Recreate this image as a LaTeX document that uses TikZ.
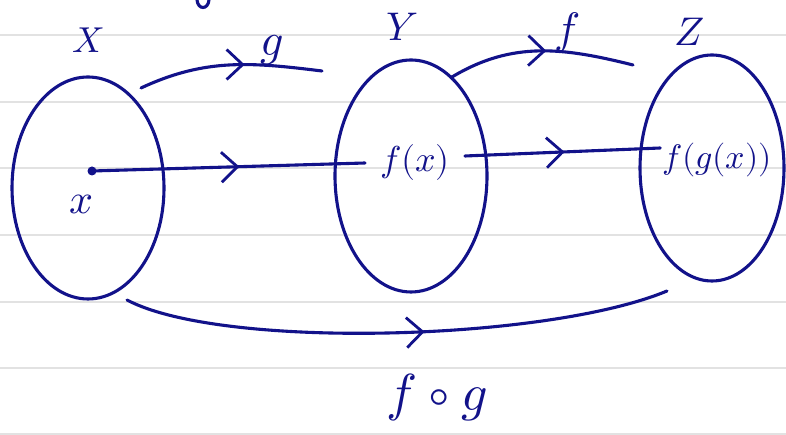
\documentclass[tikz,border=0pt]{standalone}
\usepackage{unicode-math}
\usepackage{tikz}
\usetikzlibrary{calc,positioning,arrows.meta,shapes.geometric,decorations.markings}
\definecolor{Ink}{HTML}{12128A}
\definecolor{RuleGray}{HTML}{E2E2E2}

\tikzset{
  ruled/.style={draw=RuleGray, line width=2pt},
  setblob/.style={ellipse, draw=Ink, line width=3.1pt, inner sep=0pt},
  handline/.style={draw=Ink, line width=3.1pt, line cap=round},
  lbl/.style={text=Ink, inner sep=0pt, font=\fontsize{36}{38}\selectfont},
  dotnode/.style={circle, fill=Ink, inner sep=0pt, minimum size=9pt},
  midtip/.style={postaction={decorate},
    decoration={markings, mark=at position #1 with
      {\arrow[Ink, line width=2.8pt]{Straight Barb[length=16pt,width=30pt]}}}}
}

\begin{document}
\begin{tikzpicture}[x=1pt,y=1pt]
  \useasboundingbox[fill=white] (0,0) rectangle (786,435);

  % lined paper
  \foreach \yy in {1,66.7,133.3,200,266.7,333.3,400}
    \draw[ruled] (0,\yy) -- (786,\yy);

  % the three sets
  \node[setblob, minimum width=152pt, minimum height=222pt] (setX) at (88,247) {};
  \node[setblob, minimum width=152pt, minimum height=232pt] (setY) at (411,259) {};
  \node[setblob, minimum width=144pt, minimum height=226pt] (setZ) at (712,267) {};

  \node[lbl] (labX) at (88,395) {$X$};
  \node[lbl, font=\fontsize{40}{42}\selectfont] (labY) at (402,408) {$Y$};
  \node[lbl, font=\fontsize{40}{42}\selectfont] (labZ) at (690,403) {$Z$};

  % elements
  \node[dotnode] (pt) at (92,264) {};
  \node[lbl, font=\fontsize{42}{44}\selectfont] (labx) at (82,231) {$x$};
  \node[lbl, inner sep=15pt] (fx) at (415,272) {$f(x)$};
  \node[lbl, font=\fontsize{34}{36}\selectfont, inner sep=2pt] (fgx) at (717,275) {$f(g(x))$};

  % maps
  \coordinate (gA) at (141,347);
  \coordinate (gB) at (322,364);
  \coordinate (fA) at (452,358);
  \coordinate (fB) at (633,370);
  \coordinate (hA) at (127,135);
  \coordinate (hB) at (667,144);

  \draw[handline, midtip=0.58] (gA) to[out=25,in=173] (gB);
  \node[lbl, font=\fontsize{46}{48}\selectfont] (labg) at (272,385) {$g$};

  \draw[handline, midtip=0.53] (fA) to[out=31,in=166] (fB);
  \node[lbl, font=\fontsize{44}{46}\selectfont] (labf) at (567,402) {$f$};

  \draw[handline, midtip=0.54] (pt.center) -- (fx.west);
  \draw[handline, midtip=0.51] ([yshift=7pt]fx.east) -- ([yshift=12pt]fgx.west);

  \draw[handline, midtip=0.55] (hA) .. controls (222,85) and (547,94) .. (hB);
  \node[lbl, font=\fontsize{52}{54}\selectfont] (fog) at (437,37) {$f\circ g$};

  % stroke left over from the line above
  \draw[handline] (197,435) .. controls (198,425) and (208,425) .. (209,435);
\end{tikzpicture}
\end{document}
